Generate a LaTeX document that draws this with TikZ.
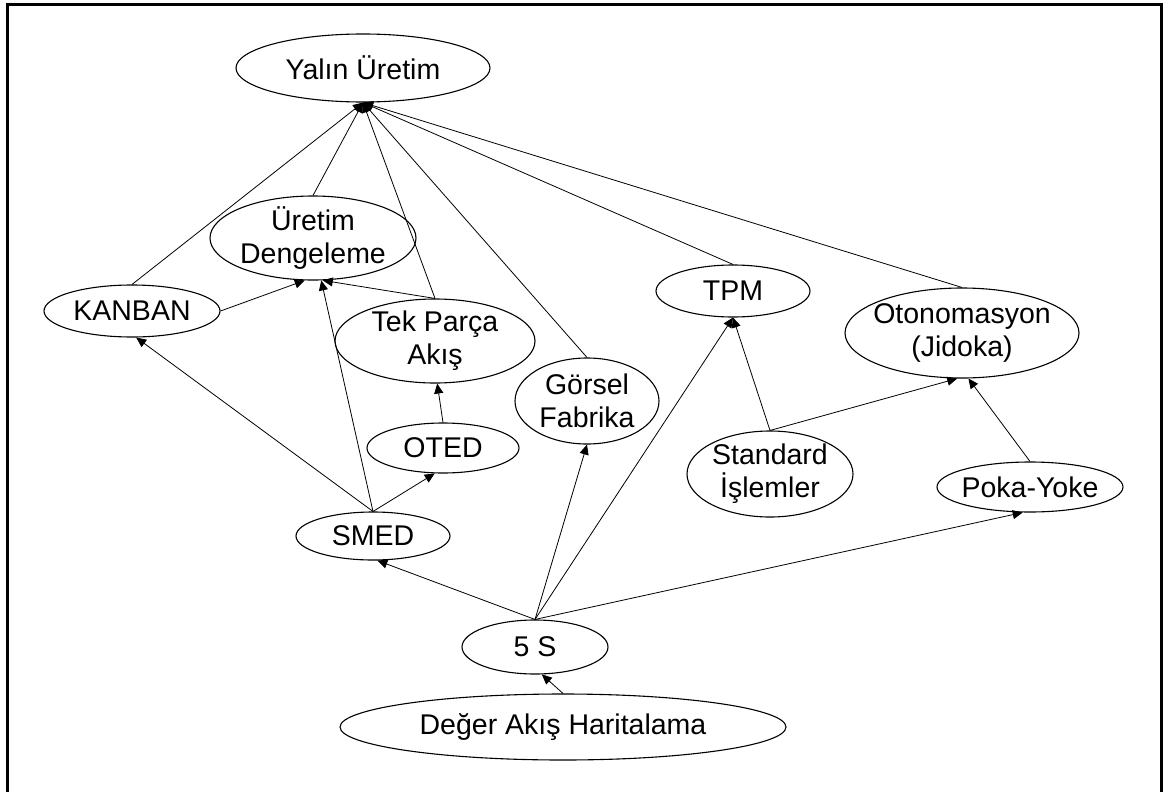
\documentclass[tikz,border=0pt]{standalone}
\usepackage{fontspec}
\setmainfont{Liberation Sans}
\usetikzlibrary{shapes.geometric,arrows.meta}

\begin{document}
\begin{tikzpicture}[x=1pt,y=-1pt,
  concept/.style={ellipse, draw, line width=1.1pt, inner sep=-24pt, align=center,
    font=\fontsize{28.5}{33}\selectfont},
  link/.style={line width=0.8pt, -{Triangle[length=10pt,width=9pt]}},
  frame/.style={line width=3pt},
]
\useasboundingbox (0,0) rectangle (1164,792);
% open frame round the chart
\draw[frame] (7,792) -- (7,5) -- (1161,5) -- (1161,792);

% concepts
\node[concept, minimum width=254pt, minimum height=68pt] (yu)     at (363,68)  {Yalın Üretim};
\node[concept, minimum width=206pt, minimum height=84pt] (ud)     at (313,238) {Üretim\\Dengeleme};
\node[concept, minimum width=176pt, minimum height=52pt] (kanban) at (132,311) {KANBAN};
\node[concept, minimum width=200pt, minimum height=84pt] (tp)     at (435,341) {Tek Parça\\Akış};
\node[concept, minimum width=152pt, minimum height=50pt] (oted)   at (443,448) {OTED};
\node[concept, minimum width=154pt, minimum height=48pt] (smed)   at (373,536) {SMED};
\node[concept, minimum width=144pt, minimum height=86pt] (gf)     at (587,401) {Görsel\\Fabrika};
\node[concept, minimum width=154pt, minimum height=52pt] (tpm)    at (733,291) {TPM};
\node[concept, minimum width=234pt, minimum height=90pt] (oto)    at (962,333) {Otonomasyon\\(Jidoka)};
\node[concept, minimum width=166pt, minimum height=86pt] (si)     at (770,474) {Standard\\İşlemler};
\node[concept, minimum width=186pt, minimum height=50pt] (py)     at (1030,487) {Poka-Yoke};
\node[concept, minimum width=146pt, minimum height=54pt] (fives)  at (535,647) {5 S};
\node[concept, minimum width=446pt, minimum height=66pt] (da)     at (563,727) {Değer Akış Haritalama};

% everything feeds lean production
\draw[link] (kanban.north) -- (yu.south);
\draw[link] (ud.north)     -- (yu.south);
\draw[link] (tp.north)     -- (yu.south);
\draw[link] (gf.north)     -- (yu.south);
\draw[link] (tpm.north)    -- (yu.south);
\draw[link] (oto.north)    -- (yu.south);

% production levelling
\draw[link] (kanban.east)  -- (ud.259);
\draw[link] (smed.north)   -- (ud.281);
\draw[link] (tp.north)     -- (ud.283);

% quick changeover
\draw[link] (smed.north)   -- (kanban.279);
\draw[link] (smed.north)   -- (oted.252);
\draw[link] (oted.north)   -- (tp.273);

% 5S as the base
\draw[link] (fives.north)  -- (smed.280);
\draw[link] (fives.north)  -- (gf.south);
\draw[link] (fives.north)  -- (tpm.south);
\draw[link] (fives.north)  -- (py.254);
\draw[link] (da.north)     -- (fives.284);

% standard work and mistake proofing
\draw[link] (si.north)     -- (tpm.south);
\draw[link] (si.north)     -- (oto.264);
\draw[link] (py.north)     -- (oto.278);
\end{tikzpicture}
\end{document}
